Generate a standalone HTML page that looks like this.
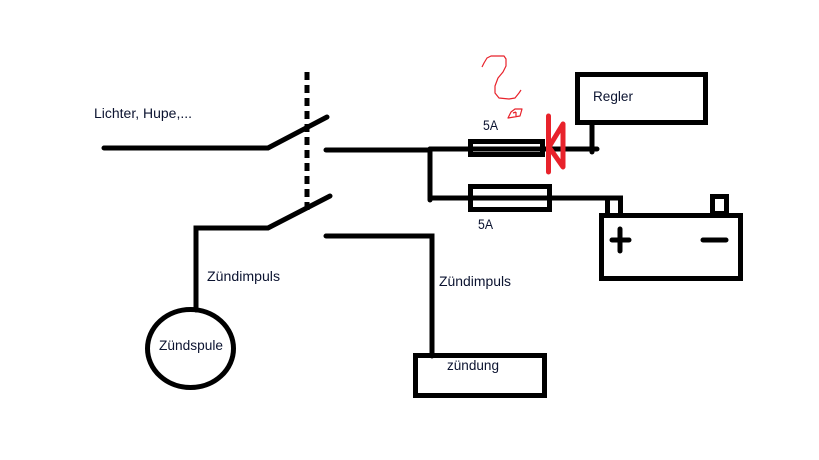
<!DOCTYPE html>
<html><head><meta charset="utf-8"><style>
html,body{margin:0;padding:0;background:#fff;}
svg{display:block;}
text{font-family:"Liberation Sans",sans-serif;font-size:13.5px;fill:#0b1330;}
</style></head><body>
<svg width="819" height="460" viewBox="0 0 819 460" xmlns="http://www.w3.org/2000/svg">
<g stroke="#000" stroke-width="5" fill="none" stroke-linecap="round" stroke-linejoin="miter">
  <!-- top switch -->
  <polyline points="104,148 268,148 327,117"/>
  <line x1="326" y1="150" x2="430" y2="150"/>
  <!-- dotted mechanical link -->
  <line x1="307" y1="72" x2="307" y2="210" stroke-dasharray="8,5" stroke-linecap="butt"/>
  <!-- bottom switch -->
  <polyline points="196,310 196,228 268,228 330,196"/>
  <polyline points="326,236 432,236 432,356"/>
  <!-- junction -->
  <polyline points="430,149 430,200"/>
  <line x1="430" y1="149" x2="597" y2="149"/>
  <line x1="430" y1="198" x2="607" y2="198"/>
  <!-- fuses -->
  <rect x="470.5" y="141.5" width="72" height="13" stroke="#000"/>
  <rect x="470.5" y="186.5" width="79" height="23"/>
  <!-- regler -->
  <rect x="577.5" y="74.5" width="128" height="48"/>
  <line x1="592" y1="123" x2="592" y2="152"/>
  <!-- battery -->
  <rect x="601.5" y="215.5" width="139" height="63"/>
  <polyline points="607.5,215 607.5,198 620.5,198 620.5,215"/>
  <rect x="712.5" y="196.5" width="14" height="17"/>
  <line x1="612" y1="240" x2="629" y2="240"/>
  <line x1="620" y1="229" x2="620" y2="251"/>
  <line x1="703" y1="240" x2="726" y2="240"/>
  <!-- coil -->
  <ellipse cx="190.5" cy="348.5" rx="43" ry="39"/>
  <!-- zündung -->
  <rect x="415.5" y="355.5" width="129" height="40"/>
</g>
<!-- red diode -->
<g stroke="#e8222b" fill="none" stroke-width="5" stroke-linecap="round" stroke-linejoin="round">
  <line x1="548.5" y1="116" x2="548.5" y2="172"/>
  <polyline points="563,124 549,147 563,167 563,124"/>
</g>
<!-- red squiggle -->
<g stroke="#e8222b" fill="none" stroke-width="1.2" stroke-linejoin="round">
  <path d="M482,67 L484,63 L487,58 L491,56 L504,56 L506,59 L506,66 L503,72 L498,78 L495,86 L495,93 L499,98 L509,99 L515,98 L519,93 L521,90"/>
  <path d="M508,118 L511,112 L515,109 L522,109 L520,116 L508,118 Z M513,113 L516,112 M516,112 L516,117"/>
</g>
<text x="94" y="118" textLength="98" lengthAdjust="spacingAndGlyphs">Lichter, Hupe,...</text>
<text x="483" y="130" textLength="15" lengthAdjust="spacingAndGlyphs">5A</text>
<text x="478" y="229" textLength="15" lengthAdjust="spacingAndGlyphs">5A</text>
<text x="593" y="101" textLength="40" lengthAdjust="spacingAndGlyphs">Regler</text>
<text x="207" y="281" textLength="73" lengthAdjust="spacingAndGlyphs">Zündimpuls</text>
<text x="439" y="286" textLength="72" lengthAdjust="spacingAndGlyphs">Zündimpuls</text>
<text x="159" y="350" textLength="64" lengthAdjust="spacingAndGlyphs">Zündspule</text>
<text x="447" y="370" textLength="52" lengthAdjust="spacingAndGlyphs">zündung</text>
</svg>
</body></html>
